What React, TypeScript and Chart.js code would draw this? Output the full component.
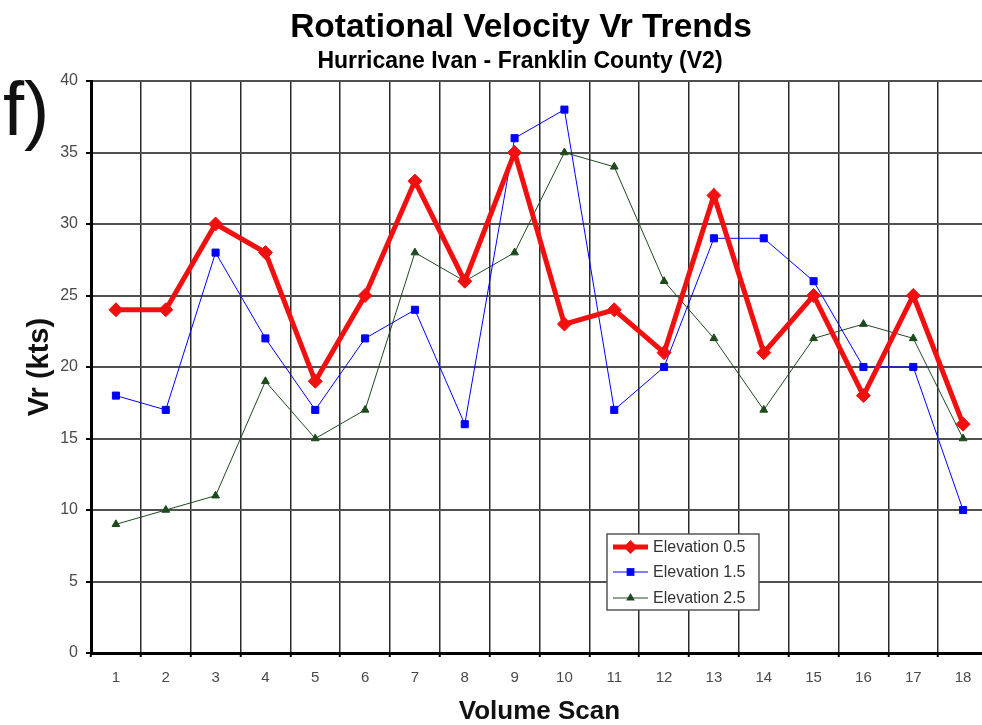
import React, { useEffect, useRef } from 'react';
import { Chart, registerables } from 'chart.js';

Chart.register(...registerables);

const FONT = '"Liberation Sans", Arial, Helvetica, sans-serif';

const TITLE = 'Rotational Velocity Vr Trends';
const SUBTITLE = 'Hurricane Ivan - Franklin County (V2)';
const PANEL_LABEL = 'f)';
const X_TITLE = 'Volume Scan';
const Y_TITLE = 'Vr (kts)';

const scans = ['1', '2', '3', '4', '5', '6', '7', '8', '9', '10', '11', '12', '13', '14', '15', '16', '17', '18'];
const elevation05 = [24, 24, 30, 28, 19, 25, 33, 26, 35, 23, 24, 21, 32, 21, 25, 18, 25, 16];
const elevation15 = [18, 17, 28, 22, 17, 22, 24, 16, 36, 38, 17, 20, 29, 29, 26, 20, 20, 10];
const elevation25 = [9, 10, 11, 19, 15, 17, 28, 26, 28, 35, 34, 26, 22, 17, 22, 23, 22, 15];
const seriesLabels = ['Elevation 0.5', 'Elevation 1.5', 'Elevation 2.5'];
const Y_MIN = 0;
const Y_MAX = 40;
const Y_STEP = 5;

const RED = '#f01010';
const BLUE = '#0000ff';
const GREEN = '#1d4a1d';

function drawMarker(ctx: CanvasRenderingContext2D, style: string, x: number, y: number, r: number, fill: string) {
  ctx.beginPath();
  if (style === 'rectRot') {
    ctx.moveTo(x - r, y);
    ctx.lineTo(x, y - r);
    ctx.lineTo(x + r, y);
    ctx.lineTo(x, y + r);
  } else if (style === 'rect') {
    const s = r * Math.SQRT1_2;
    ctx.rect(x - s, y - s, 2 * s, 2 * s);
  } else {
    const h = r;
    ctx.moveTo(x, y - h);
    ctx.lineTo(x + h * 0.866, y + h * 0.5);
    ctx.lineTo(x - h * 0.866, y + h * 0.5);
  }
  ctx.closePath();
  ctx.fillStyle = fill;
  ctx.fill();
}

const overlayPlugin = {
  id: 'overlay',
  afterDraw(chart: any) {
    const ctx: CanvasRenderingContext2D = chart.ctx;
    ctx.save();
    // Titles
    ctx.fillStyle = '#000';
    ctx.textAlign = 'center';
    ctx.textBaseline = 'alphabetic';
    ctx.font = `bold 33.5px ${FONT}`;
    ctx.fillText(TITLE, 521, 37);
    ctx.font = `bold 23px ${FONT}`;
    ctx.fillText(SUBTITLE, 520, 68);
    // Panel label
    ctx.textAlign = 'left';
    ctx.font = `76px ${FONT}`;
    ctx.fillStyle = '#111';
    ctx.fillText(PANEL_LABEL, 3, 135);

    // Legend box
    const lx = 607, ly = 534, lw = 152, lh = 76;
    ctx.fillStyle = '#fff';
    ctx.fillRect(lx, ly, lw, lh);
    ctx.strokeStyle = '#555';
    ctx.lineWidth = 1.5;
    ctx.strokeRect(lx, ly, lw, lh);
    const rows = [547, 572, 598];
    ctx.font = `16px ${FONT}`;
    ctx.textBaseline = 'middle';
    chart.data.datasets.forEach((ds: any, i: number) => {
      const y = rows[i];
      ctx.strokeStyle = ds.borderColor;
      ctx.lineWidth = ds.borderWidth;
      ctx.beginPath();
      ctx.moveTo(lx + 6, y);
      ctx.lineTo(lx + 41, y);
      ctx.stroke();
      drawMarker(ctx, ds.pointStyle, lx + 23.5, y, i === 0 ? 7 : i === 1 ? 5.5 : 5, ds.pointBackgroundColor);
      ctx.fillStyle = '#333';
      ctx.fillText(ds.label, lx + 46, y + 1);
    });
    ctx.restore();
  },
};

export default function App() {
  const canvasRef = useRef<HTMLCanvasElement | null>(null);

  useEffect(() => {
    document.body.style.margin = '0';
    const canvas = canvasRef.current;
    if (!canvas) return;
    Chart.defaults.font.family = FONT;
    const chart = new Chart(canvas, {
      type: 'line',
      data: {
        labels: scans,
        datasets: [
          {
            label: seriesLabels[0],
            data: elevation05,
            borderColor: RED,
            backgroundColor: RED,
            borderWidth: 5,
            pointStyle: 'rectRot',
            pointRadius: 7,
            pointBorderWidth: 1,
            pointBackgroundColor: RED,
            pointBorderColor: RED,
            tension: 0,
          },
          {
            label: seriesLabels[1],
            data: elevation15,
            borderColor: BLUE,
            backgroundColor: BLUE,
            borderWidth: 1,
            pointStyle: 'rect',
            pointRadius: 5,
            pointBorderWidth: 1,
            pointBackgroundColor: BLUE,
            pointBorderColor: BLUE,
            tension: 0,
          },
          {
            label: seriesLabels[2],
            data: elevation25,
            borderColor: GREEN,
            backgroundColor: GREEN,
            borderWidth: 1,
            pointStyle: 'triangle',
            pointRadius: 4.5,
            pointBorderWidth: 1,
            pointBackgroundColor: GREEN,
            pointBorderColor: GREEN,
            tension: 0,
          },
        ],
      },
      options: {
        animation: false,
        responsive: false,
        devicePixelRatio: 1,
        layout: { padding: { top: 81, right: 12, bottom: 0, left: 0 } },
        plugins: {
          legend: { display: false },
          title: { display: false },
          tooltip: { enabled: false },
        },
        scales: {
          x: {
            type: 'category',
            offset: true,
            afterFit: (scale: any) => {
              scale.height = 72;
            },
            grid: {
              offset: true,
              color: '#2a2a2a',
              lineWidth: 1.5,
              drawTicks: true,
              tickLength: 4,
              tickColor: '#000',
              tickWidth: 2,
            },
            border: { display: true, color: '#000', width: 3 },
            ticks: {
              color: '#4a4a4a',
              font: { size: 15 },
              padding: 12,
              maxRotation: 0,
              autoSkip: false,
            },
            title: {
              display: true,
              text: X_TITLE,
              color: '#111',
              font: { size: 26, weight: 'bold' },
              padding: { top: 0, bottom: -2 },
            },
          },
          y: {
            min: Y_MIN,
            max: Y_MAX,
            afterFit: (scale: any) => {
              scale.width = 91;
            },
            grid: {
              color: '#505050',
              lineWidth: 2,
              drawTicks: true,
              tickLength: 5,
              tickColor: '#000',
              tickWidth: 2,
            },
            border: { display: true, color: '#000', width: 3 },
            ticks: {
              stepSize: Y_STEP,
              color: '#4a4a4a',
              font: { size: 16 },
              padding: 8,
            },
            title: {
              display: true,
              text: Y_TITLE,
              color: '#111',
              font: { size: 29, weight: 'bold' },
              padding: { top: 23, bottom: 0 },
            },
          },
        },
      },
      plugins: [overlayPlugin],
    });
    return () => chart.destroy();
  }, []);

  return (
    <div style={{ width: 982, height: 725, overflow: 'hidden', position: 'relative', background: '#fff' }}>
      <canvas ref={canvasRef} width={1000} height={725} style={{ display: 'block', width: 1000, height: 725 }} />
    </div>
  );
}
